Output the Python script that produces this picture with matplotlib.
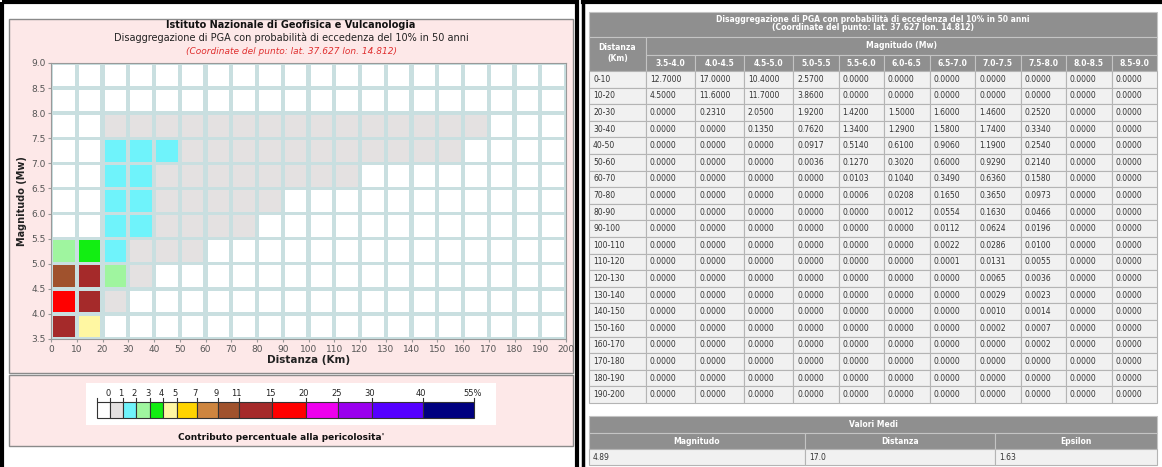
import numpy as np
import matplotlib
matplotlib.use("Agg")
import matplotlib.pyplot as plt
from matplotlib.patches import Rectangle

# disaggregation bins
dist_bins = ["0-10", "10-20", "20-30", "30-40", "40-50", "50-60", "60-70", "70-80",
             "80-90", "90-100", "100-110", "110-120", "120-130", "130-140", "140-150",
             "150-160", "160-170", "170-180", "180-190", "190-200"]
mag_bins = ["3.5-4.0", "4.0-4.5", "4.5-5.0", "5.0-5.5", "5.5-6.0", "6.0-6.5",
            "6.5-7.0", "7.0-7.5", "7.5-8.0", "8.0-8.5", "8.5-9.0"]
dist_edges = np.arange(0, 201, 10)
mag_edges = np.arange(3.5, 9.01, 0.5)

# percent contribution, rows = distance bin, cols = magnitude bin
contrib = np.array([
    [12.7, 17.0, 10.4, 2.57, 0, 0, 0, 0, 0, 0, 0],
    [4.5, 11.6, 11.7, 3.86, 0, 0, 0, 0, 0, 0, 0],
    [0, 0.231, 2.05, 1.92, 1.42, 1.5, 1.6, 1.46, 0.252, 0, 0],
    [0, 0, 0.135, 0.762, 1.34, 1.29, 1.58, 1.74, 0.334, 0, 0],
    [0, 0, 0, 0.0917, 0.514, 0.61, 0.906, 1.19, 0.254, 0, 0],
    [0, 0, 0, 0.0036, 0.127, 0.302, 0.6, 0.929, 0.214, 0, 0],
    [0, 0, 0, 0, 0.0103, 0.104, 0.349, 0.636, 0.158, 0, 0],
    [0, 0, 0, 0, 0.0006, 0.0208, 0.165, 0.365, 0.0973, 0, 0],
    [0, 0, 0, 0, 0, 0.0012, 0.0554, 0.163, 0.0466, 0, 0],
    [0, 0, 0, 0, 0, 0, 0.0112, 0.0624, 0.0196, 0, 0],
    [0, 0, 0, 0, 0, 0, 0.0022, 0.0286, 0.0100, 0, 0],
    [0, 0, 0, 0, 0, 0, 0.0001, 0.0131, 0.0055, 0, 0],
    [0, 0, 0, 0, 0, 0, 0, 0.0065, 0.0036, 0, 0],
    [0, 0, 0, 0, 0, 0, 0, 0.0029, 0.0023, 0, 0],
    [0, 0, 0, 0, 0, 0, 0, 0.0010, 0.0014, 0, 0],
    [0, 0, 0, 0, 0, 0, 0, 0.0002, 0.0007, 0, 0],
    [0, 0, 0, 0, 0, 0, 0, 0, 0.0002, 0, 0],
    [0, 0, 0, 0, 0, 0, 0, 0, 0, 0, 0],
    [0, 0, 0, 0, 0, 0, 0, 0, 0, 0, 0],
    [0, 0, 0, 0, 0, 0, 0, 0, 0, 0, 0],
])

mean_names = ["Magnitudo", "Distanza", "Epsilon"]
mean_values = ["4.89", "17.0", "1.63"]

# colour classes (upper bounds) for the legend
class_bounds = [0, 1, 2, 3, 4, 5, 7, 9, 11, 15, 20, 25, 30, 40, 55]
class_labels = ["0", "1", "2", "3", "4", "5", "7", "9", "11", "15", "20", "25", "30", "40", "55%"]
class_colors = ["#ffffff", "#e4e1e1", "#6ff3fb", "#9ff59f", "#12ee12", "#fff7a2",
                "#ffd400", "#cd853f", "#a0522d", "#a52a2a", "#ff0000", "#ee00ee",
                "#9a00ee", "#5500ff", "#000080"]
class_widths = [12.7, 13.3, 13.3, 13.3, 13.7, 13.7, 20, 20.7, 21.1, 33.3, 33.6, 32.6, 33.3, 51, 51.7]


def class_color(v):
    if v <= 0:
        return class_colors[0]
    return class_colors[int(np.searchsorted(class_bounds, v, side="left"))]


W, H = 1162, 467
fig = plt.figure(figsize=(W / 100, H / 100), dpi=100)
fig.patch.set_facecolor("white")
plt.rcParams["font.family"] = ["DejaVu Sans"]

bg = fig.add_axes([0, 0, 1, 1])
bg.set_xlim(0, W)
bg.set_ylim(H, 0)
bg.axis("off")

# ---- left panel frame and boxes
bg.add_patch(Rectangle((1.5, 1.5), 575, H + 5, fill=False, ec="black", lw=3))
bg.add_patch(Rectangle((9, 19), 564, 354, fc="#fde8e8", ec="#8a8a8a", lw=1))
bg.add_patch(Rectangle((9, 375), 564, 71, fc="#fde8e8", ec="#8a8a8a", lw=1))

bg.text(291, 25, "Istituto Nazionale di Geofisica e Vulcanologia", ha="center", va="center",
        fontsize=7, fontweight="bold", color="#111")
bg.text(291, 38, "Disaggregazione di PGA con probabilità di eccedenza del 10% in 50 anni",
        ha="center", va="center", fontsize=7, color="#222")
bg.text(291, 51, "(Coordinate del punto: lat. 37.627 lon. 14.812)", ha="center", va="center",
        fontsize=6.5, style="italic", color="#e03030")

# ---- heatmap
x0, x1, y0, y1 = 51, 566, 63, 339
ax = fig.add_axes([x0 / W, 1 - y1 / H, (x1 - x0) / W, (y1 - y0) / H])
ax.set_facecolor("#c9dfe0")
for i in range(len(dist_bins)):
    for j in range(len(mag_bins)):
        ax.add_patch(Rectangle((dist_edges[i] + 0.8, mag_edges[j] + 0.035), 8.4, 0.43,
                               fc=class_color(contrib[i, j]), ec="none"))
ax.set_xlim(dist_edges[0], dist_edges[-1])
ax.set_ylim(mag_edges[0], mag_edges[-1])
ax.set_xticks(dist_edges)
ax.set_yticks(mag_edges)
ax.set_yticklabels(["%.1f" % m for m in mag_edges])
ax.tick_params(labelsize=6.5, labelcolor="#555", color="#999", length=2, pad=2)
for s in ax.spines.values():
    s.set_color("#999")
ax.set_xlabel("Distanza (Km)", fontsize=7.5, fontweight="bold", color="#222", labelpad=1)
ax.set_ylabel("Magnitudo (Mw)", fontsize=7, fontweight="bold", color="#222", labelpad=3)

# ---- colour legend
bg.add_patch(Rectangle((86, 383), 410, 42, fc="white", ec="none"))
lx0 = 97
lx = lx0
for col, w, lab in zip(class_colors, class_widths, class_labels):
    bg.add_patch(Rectangle((lx, 402), w, 16, fc=col, ec="#333", lw=0.8))
    bg.plot([lx + w, lx + w], [398, 402], color="#333", lw=0.8)
    bg.text(lx + w - 2, 393, lab, ha="center", va="center", fontsize=6, color="#222")
    lx += w
bg.plot([lx0, lx0], [398, 402], color="#333", lw=0.8)
bg.text(281, 437, "Contributo percentuale alla pericolosita'", ha="center", va="center",
        fontsize=6.5, fontweight="bold", color="#111")

# ---- right panel: table
bg.plot([583, 583], [0, H], color="black", lw=2.5)
bg.plot([583, W], [1.5, 1.5], color="black", lw=3)

head_fc, head_ec = "#8f8f8f", "#c4c4c4"
cell_fc, cell_ec = "#f1f1f1", "#b4b4b4"
col_w = [57] + [49] * 3 + [45.5] * 8
col_x = np.concatenate([[589], 589 + np.cumsum(col_w)])
tx0, tx1 = col_x[0], col_x[-1]
row_h = 16.6

bg.add_patch(Rectangle((tx0, 12), tx1 - tx0, 25, fc=head_fc, ec=head_ec, lw=0.8))
bg.text((tx0 + tx1) / 2, 20, "Disaggregazione di PGA con probabilità di eccedenza del 10% in 50 anni",
        ha="center", va="center", fontsize=5.5, fontweight="bold", color="white")
bg.text((tx0 + tx1) / 2, 28, "(Coordinate del punto: lat. 37.627 lon. 14.812)",
        ha="center", va="center", fontsize=5.5, fontweight="bold", color="white")
bg.add_patch(Rectangle((tx0, 37), col_w[0], 34, fc=head_fc, ec=head_ec, lw=0.8))
bg.text(tx0 + col_w[0] / 2, 48, "Distanza", ha="center", va="center", fontsize=5.5,
        fontweight="bold", color="white")
bg.text(tx0 + col_w[0] / 2, 59, "(Km)", ha="center", va="center", fontsize=5.5,
        fontweight="bold", color="white")
bg.add_patch(Rectangle((col_x[1], 37), tx1 - col_x[1], 18, fc=head_fc, ec=head_ec, lw=0.8))
bg.text((col_x[1] + tx1) / 2, 46, "Magnitudo (Mw)", ha="center", va="center", fontsize=5.5,
        fontweight="bold", color="white")
for j, lab in enumerate(mag_bins):
    bg.add_patch(Rectangle((col_x[j + 1], 55), col_w[j + 1], 16, fc=head_fc, ec=head_ec, lw=0.8))
    bg.text(col_x[j + 1] + col_w[j + 1] / 2, 63, lab, ha="center", va="center", fontsize=5.5,
            fontweight="bold", color="white")

for i, dlab in enumerate(dist_bins):
    ry = 71 + i * row_h
    cells = [dlab] + ["%.4f" % v for v in contrib[i]]
    for j, txt in enumerate(cells):
        bg.add_patch(Rectangle((col_x[j], ry), col_w[j], row_h, fc=cell_fc, ec=cell_ec, lw=0.8))
        bg.text(col_x[j] + 4, ry + row_h / 2, txt, ha="left", va="center", fontsize=5.5,
                color="#333")

# ---- mean values table
mx = [tx0, 805, 995, tx1]
bg.add_patch(Rectangle((tx0, 416), tx1 - tx0, 17, fc=head_fc, ec=head_ec, lw=0.8))
bg.text((tx0 + tx1) / 2, 424.5, "Valori Medi", ha="center", va="center", fontsize=5.5,
        fontweight="bold", color="white")
for k, (name, val) in enumerate(zip(mean_names, mean_values)):
    bg.add_patch(Rectangle((mx[k], 433), mx[k + 1] - mx[k], 16, fc=head_fc, ec=head_ec, lw=0.8))
    bg.text((mx[k] + mx[k + 1]) / 2, 441, name, ha="center", va="center", fontsize=5.5,
            fontweight="bold", color="white")
    bg.add_patch(Rectangle((mx[k], 449), mx[k + 1] - mx[k], 16, fc=cell_fc, ec=cell_ec, lw=0.8))
    bg.text(mx[k] + 4, 457, val, ha="left", va="center", fontsize=5.5, color="#333")

fig.savefig("out.png", dpi=100)
